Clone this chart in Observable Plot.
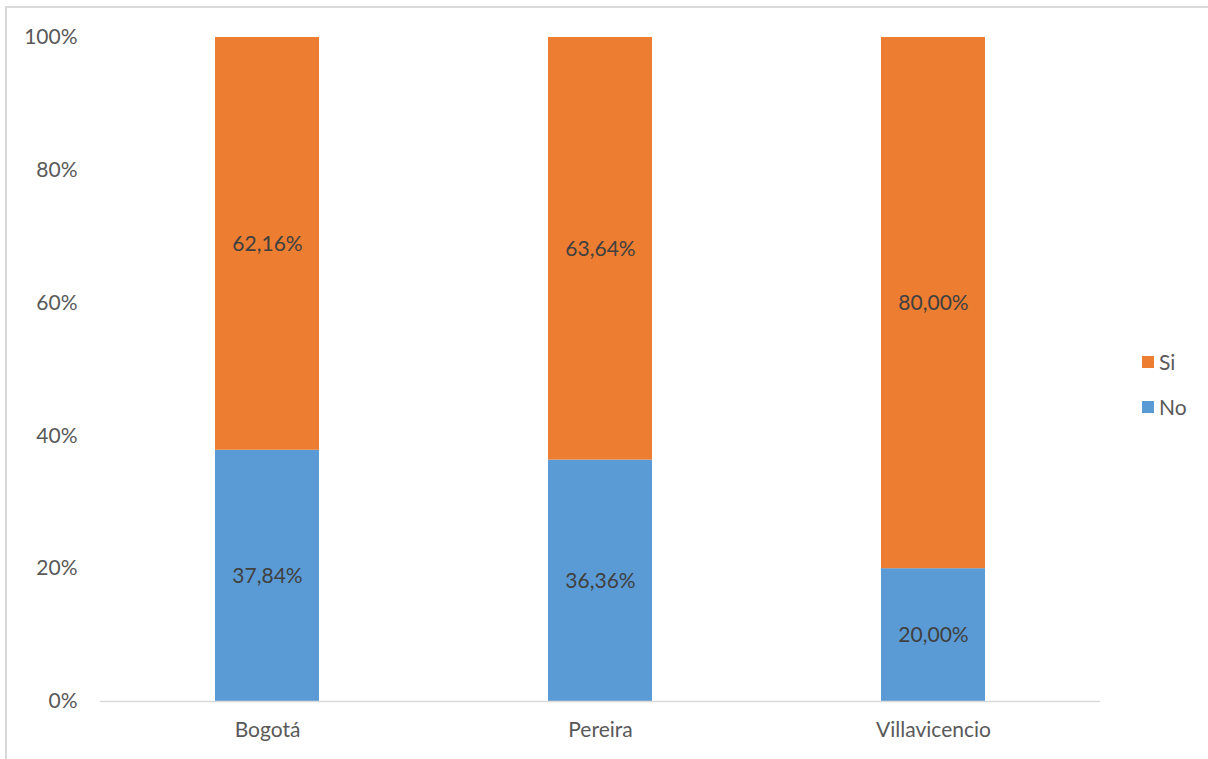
<!DOCTYPE html>
<html><head><meta charset="utf-8">
<script src="https://cdn.jsdelivr.net/npm/d3@7"></script>
<script src="https://cdn.jsdelivr.net/npm/@observablehq/plot@0.6"></script>
<style>
body{margin:0;background:#fff;font-family:Lato,Calibri,"Liberation Sans",sans-serif;}
#wrap{position:relative;width:1208px;height:759px;overflow:hidden;}
#frame{position:absolute;left:5px;top:6px;width:1220px;height:780px;border:2px solid #d9d9d9;box-sizing:border-box;}
#chart{position:absolute;left:0;top:0;}
.leg{position:absolute;left:1142px;font-size:21px;color:#595959;display:flex;align-items:center;}
.leg span.sw{display:inline-block;width:12px;height:12px;margin-right:5px;}
</style></head>
<body><div id="wrap"><div id="frame"></div><div id="chart"></div>
<div class="leg" style="top:349px"><span class="sw" style="background:#ED7D31"></span>Si</div>
<div class="leg" style="top:394px"><span class="sw" style="background:#5B9BD5"></span>No</div>
</div>
<script>
const cities = ["Bogotá", "Pereira", "Villavicencio"];
const noValues = [37.84, 36.36, 20.00];
const siValues = [62.16, 63.64, 80.00];
const seriesNames = ["No", "Si"];
const seriesColors = ["#5B9BD5", "#ED7D31"];
const yTicks = [0, 20, 40, 60, 80, 100];

const data = [];
cities.forEach((c, i) => {
  data.push({city: c, series: "No", value: noValues[i]});
  data.push({city: c, series: "Si", value: siValues[i]});
});
const fmt = v => v.toFixed(2).replace(".", ",") + "%";

const chart = Plot.plot({
  width: 1208, height: 759,
  marginLeft: 100, marginRight: 108, marginTop: 37, marginBottom: 58,
  style: {fontFamily: 'Lato, "Liberation Sans", sans-serif', fontSize: "21px", color: "#595959", background: "transparent"},
  x: {domain: cities, paddingInner: 0.688, paddingOuter: 0.344, label: null, tickSize: 0, tickPadding: 21},
  y: {domain: [0, 100], ticks: yTicks, tickFormat: d => d + "%", label: null, tickSize: 0, tickPadding: 23},
  color: {domain: seriesNames, range: seriesColors},
  marks: [
    Plot.barY(data, {x: "city", y: "value", fill: "series", order: seriesNames}),
    Plot.ruleY([0], {stroke: "#d9d9d9", strokeWidth: 1.5}),
    Plot.text(data, Plot.stackY({x: "city", y: "value", z: "series", order: seriesNames, text: d => fmt(d.value), fill: "#404040", fontSize: 21})),
  ]
});
document.getElementById("chart").appendChild(chart);
</script></body></html>
